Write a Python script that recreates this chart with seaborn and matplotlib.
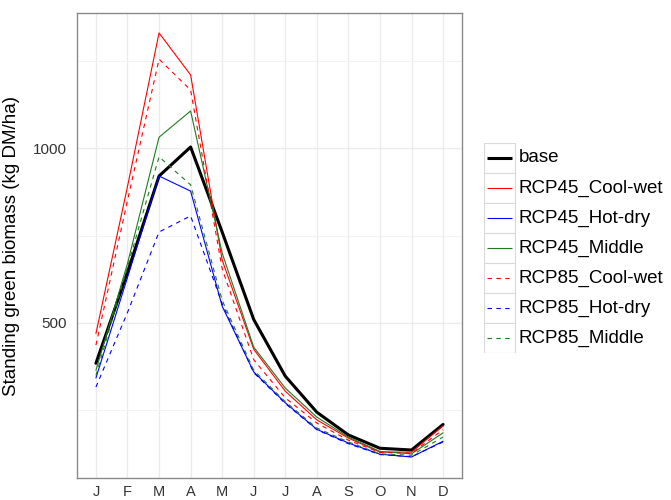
import matplotlib
matplotlib.use('Agg')
import matplotlib.pyplot as plt
from matplotlib.patches import Rectangle
from matplotlib.ticker import MultipleLocator
import pandas as pd
import seaborn as sns

# monthly standing green biomass (kg DM/ha)
months = ['J', 'F', 'M', 'A', 'M', 'J', 'J', 'A', 'S', 'O', 'N', 'D']
base = [385, 645, 920, 1003, 760, 510, 348, 245, 180, 142, 137, 210]
rcp45_cool_wet = [470, 890, 1329, 1209, 680, 425, 305, 223, 171, 131, 131, 206]
rcp45_hot_dry = [343, 630, 920, 877, 548, 360, 272, 196, 157, 125, 117, 162]
rcp45_middle = [365, 670, 1031, 1106, 700, 431, 314, 231, 174, 133, 126, 186]
rcp85_cool_wet = [437, 850, 1254, 1166, 655, 395, 286, 214, 165, 130, 128, 195]
rcp85_hot_dry = [317, 530, 760, 806, 555, 358, 270, 195, 155, 124, 118, 160]
rcp85_middle = [350, 660, 975, 895, 565, 365, 275, 200, 160, 126, 122, 174]

scenarios = ['base', 'RCP45_Cool-wet', 'RCP45_Hot-dry', 'RCP45_Middle',
             'RCP85_Cool-wet', 'RCP85_Hot-dry', 'RCP85_Middle']
series = [base, rcp45_cool_wet, rcp45_hot_dry, rcp45_middle,
          rcp85_cool_wet, rcp85_hot_dry, rcp85_middle]

colors = {'base': 'black',
          'RCP45_Cool-wet': '#ff0000', 'RCP45_Hot-dry': '#0000ff', 'RCP45_Middle': '#1e7b1e',
          'RCP85_Cool-wet': '#ff0000', 'RCP85_Hot-dry': '#0000ff', 'RCP85_Middle': '#1e7b1e'}
dashes = {s: ('' if not s.startswith('RCP85') else (4, 4)) for s in scenarios}
widths = {s: (2.2 if s == 'base' else 0.8) for s in scenarios}


def main():
    rows = []
    for name, vals in zip(scenarios, series):
        for i, v in enumerate(vals):
            rows.append({'month': i, 'biomass': v, 'scenario': name})
    df = pd.DataFrame(rows)

    sns.set_style('white')
    plt.rcParams['font.family'] = ['Liberation Sans', 'DejaVu Sans']

    fig = plt.figure(figsize=(6.71, 5.0), dpi=100)
    ax = fig.add_axes([77 / 671, 22 / 500, 385 / 671, 465 / 500])

    sns.lineplot(data=df, x='month', y='biomass', hue='scenario', style='scenario',
                 size='scenario', hue_order=scenarios, style_order=scenarios,
                 size_order=scenarios, palette=colors, dashes=dashes, sizes=widths,
                 legend=False, sort=False, ax=ax)

    ax.set_xlim(-0.6, 11.6)
    ax.set_ylim(57, 1386)
    ax.set_xticks(range(12))
    ax.set_xticklabels(months)
    ax.yaxis.set_major_locator(MultipleLocator(500))
    ax.yaxis.set_minor_locator(MultipleLocator(250))
    ax.set_xlabel('')
    ax.set_ylabel('Standing green biomass (kg DM/ha)', fontsize=13.5, color='black')
    ax.yaxis.set_label_coords(-0.148, 0.5)

    ax.grid(True, which='major', color='#ebebeb', lw=1.0)
    ax.grid(True, which='minor', axis='y', color='#f2f2f2', lw=0.7)
    ax.set_axisbelow(True)
    for sp in ax.spines.values():
        sp.set_color('#8a8a8a')
        sp.set_linewidth(1.0)
    ax.tick_params(axis='both', which='major', direction='out', length=3.5, width=0.8,
                   color='#333333', labelcolor='#333333', labelsize=11, pad=3.5)
    # x labels sit low, just inside the bottom edge
    ax.tick_params(axis='x', pad=1.5, labelsize=10.5)
    ax.tick_params(axis='y', which='minor', length=0)

    # legend with boxed keys, ggplot style
    lax = fig.add_axes([484 / 671, (500 - 353) / 500, 186 / 671, 210 / 500])
    lax.set_xlim(0, 186)
    lax.set_ylim(210, 0)
    lax.axis('off')
    for i, name in enumerate(scenarios):
        lax.add_patch(Rectangle((0, i * 30), 31, 30, facecolor='white',
                                edgecolor='#d9d9d9', lw=0.8))
        ls = (0, (4, 4)) if name.startswith('RCP85') else '-'
        lax.plot([3, 28], [i * 30 + 15, i * 30 + 15], color=colors[name],
                 lw=widths[name], linestyle=ls, solid_capstyle='butt')
        lax.text(35, i * 30 + 15, name, fontsize=13.5, va='center', ha='left', color='black')

    fig.savefig('out.png', dpi=100)


if __name__ == '__main__':
    main()
